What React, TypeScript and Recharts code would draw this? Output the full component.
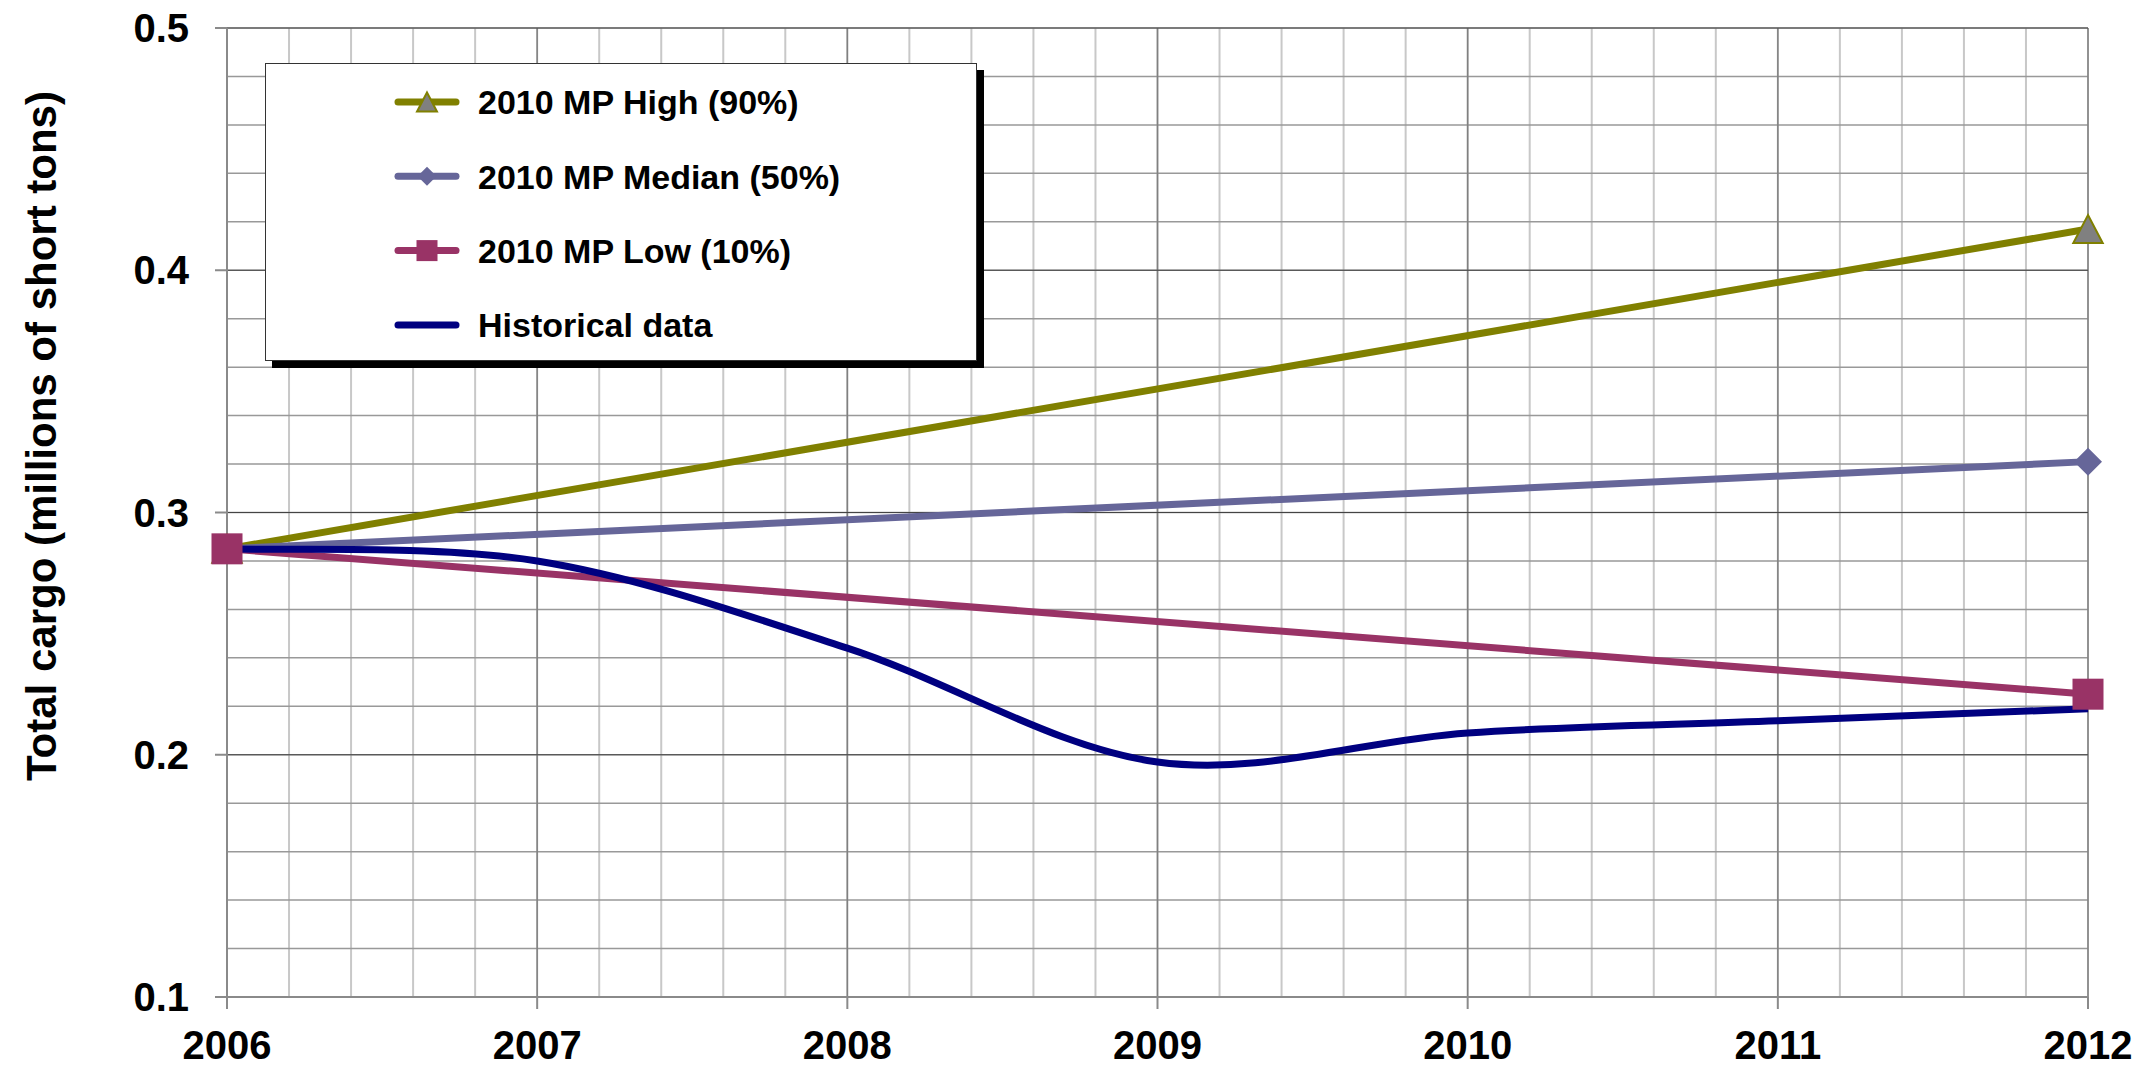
import React from 'react'
import { LineChart, Line, XAxis, YAxis, CartesianGrid, Legend, Label } from 'recharts'

// values (millions of short tons)
const years = [2006, 2007, 2008, 2009, 2010, 2011, 2012]
const high = [0.285, null, null, null, null, null, 0.417]
const median = [0.285, null, null, null, null, null, 0.321]
const low = [0.285, null, null, null, null, null, 0.225]
const historical = [0.285, 0.28, 0.244, 0.197, 0.209, 0.214, 0.219]

const yDomain = [0.1, 0.5]
const yTicks = [0.1, 0.2, 0.3, 0.4, 0.5]
const minorYearTicks = [
  2006, 2006.2, 2006.4, 2006.6, 2006.8, 2007, 2007.2, 2007.4, 2007.6, 2007.8,
  2008, 2008.2, 2008.4, 2008.6, 2008.8, 2009, 2009.2, 2009.4, 2009.6, 2009.8,
  2010, 2010.2, 2010.4, 2010.6, 2010.8, 2011, 2011.2, 2011.4, 2011.6, 2011.8, 2012,
]
const minorValueTicks = [
  0.1, 0.12, 0.14, 0.16, 0.18, 0.2, 0.22, 0.24, 0.26, 0.28, 0.3,
  0.32, 0.34, 0.36, 0.38, 0.4, 0.42, 0.44, 0.46, 0.48, 0.5,
]

type MarkerKind = 'triangle' | 'diamond' | 'square' | 'none'

const series: { key: string; name: string; color: string; marker: MarkerKind }[] = [
  { key: 'high', name: '2010 MP High (90%)', color: '#808000', marker: 'triangle' },
  { key: 'median', name: '2010 MP Median (50%)', color: '#666699', marker: 'diamond' },
  { key: 'low', name: '2010 MP Low (10%)', color: '#993366', marker: 'square' },
  { key: 'hist', name: 'Historical data', color: '#000080', marker: 'none' },
]

const data = years.map((year, i) => ({
  year,
  high: high[i],
  median: median[i],
  low: low[i],
  hist: historical[i],
}))

const FONT = '"Liberation Sans", Arial, sans-serif'

// Excel-style smoothed line (Catmull-Rom through the points)
const excelSmooth = (context: any) => {
  let pts: [number, number][] = []
  return {
    areaStart() {},
    areaEnd() {},
    lineStart() {
      pts = []
    },
    point(x: number, y: number) {
      pts.push([+x, +y])
    },
    lineEnd() {
      if (!pts.length) return
      context.moveTo(pts[0][0], pts[0][1])
      for (let i = 0; i < pts.length - 1; i++) {
        const p0 = pts[Math.max(0, i - 1)]
        const p1 = pts[i]
        const p2 = pts[i + 1]
        const p3 = pts[Math.min(pts.length - 1, i + 2)]
        context.bezierCurveTo(
          p1[0] + (p2[0] - p0[0]) / 6,
          p1[1] + (p2[1] - p0[1]) / 6,
          p2[0] - (p3[0] - p1[0]) / 6,
          p2[1] - (p3[1] - p1[1]) / 6,
          p2[0],
          p2[1]
        )
      }
    },
  }
}

const drawMarker = (kind: MarkerKind, cx: number, cy: number, size: number, color: string) => {
  const h = size / 2
  if (kind === 'triangle')
    return (
      <polygon
        points={`${cx},${cy - h} ${cx + h * 1.05},${cy + h} ${cx - h * 1.05},${cy + h}`}
        fill="#808080"
        stroke={color}
        strokeWidth={2}
      />
    )
  if (kind === 'diamond')
    return <polygon points={`${cx},${cy - h} ${cx + h},${cy} ${cx},${cy + h} ${cx - h},${cy}`} fill={color} />
  if (kind === 'square') return <rect x={cx - h} y={cy - h} width={size} height={size} fill={color} />
  return null
}

const makeDot = (kind: MarkerKind, color: string) => (props: any) => {
  const { cx, cy, value, index } = props
  if (value == null || cy == null || kind === 'none') return <g key={`d${index}`} />
  return <g key={`d${index}`}>{drawMarker(kind, cx, cy, kind === 'square' ? 31 : 28, color)}</g>
}

const renderLegend = () => (
  <div
    style={{
      width: 712,
      height: 298,
      boxSizing: 'border-box',
      border: '1px solid #333',
      background: '#fff',
      boxShadow: '7px 7px 0 #000',
    }}
  >
    <svg width={710} height={296}>
      {series.map((s, i) => {
        const cy = 38 + i * 74.3
        return (
          <g key={s.key}>
            <line x1={132} x2={190} y1={cy} y2={cy} stroke={s.color} strokeWidth={7} strokeLinecap="round" />
            {drawMarker(s.marker, 161, cy, s.marker === 'square' ? 21 : 19, s.color)}
            <text x={212} y={cy} dy="0.36em" fontSize={34} fontWeight="bold" fontFamily={FONT} fill="#000">
              {s.name}
            </text>
          </g>
        )
      })}
    </svg>
  </div>
)

const tickStyle = { fill: '#000', fontSize: 40, fontWeight: 'bold', fontFamily: FONT }

// minor horizontal gridlines every 0.02, placed with the y axis scale when available
const minorHorizontal = ({ yAxis, offset }: any) => {
  const s = yAxis?.scale
  if (typeof s === 'function') return minorValueTicks.map((v) => s(v))
  if (s && typeof s.map === 'function' && !Array.isArray(s)) return minorValueTicks.map((v) => s.map(v))
  const [lo, hi] = yDomain
  return minorValueTicks.map((v) => offset.top + (offset.height * (hi - v)) / (hi - lo))
}

export default function App() {
  return (
    <div style={{ position: 'absolute', left: 0, top: 0, background: '#fff' }}>
      <LineChart width={2155} height={1071} data={data} margin={{ top: 28, right: 67, left: 0, bottom: 0 }}>
        <XAxis xAxisId="minor" type="number" dataKey="year" domain={[2006, 2012]} ticks={minorYearTicks} hide />
        <CartesianGrid xAxisId="minor" stroke="#c8c8c8" strokeWidth={2} horizontal={false} />
        <CartesianGrid
          stroke="#999"
          strokeWidth={1.5}
          vertical={false}
          horizontalCoordinatesGenerator={minorHorizontal}
        />
        <CartesianGrid stroke="#808080" strokeWidth={1.5} horizontal={false} />
        <CartesianGrid stroke="#444" strokeWidth={1.2} vertical={false} />
        <XAxis
          type="number"
          dataKey="year"
          domain={[2006, 2012]}
          ticks={years}
          height={74}
          tick={tickStyle}
          tickSize={12}
          tickMargin={22}
          axisLine={{ stroke: '#8a8a8a', strokeWidth: 2 }}
          tickLine={{ stroke: '#8a8a8a', strokeWidth: 2 }}
          allowDecimals={false}
        />
        <YAxis
          type="number"
          domain={yDomain}
          ticks={yTicks}
          width={227}
          tick={tickStyle}
          tickSize={12}
          tickMargin={26}
          axisLine={{ stroke: '#8a8a8a', strokeWidth: 2 }}
          tickLine={{ stroke: '#8a8a8a', strokeWidth: 2 }}
        >
          <Label
            content={() => (
              <text
                x={56}
                y={436}
                transform="rotate(-90, 56, 436)"
                textAnchor="middle"
                fontSize={42}
                fontWeight="bold"
                fontFamily={FONT}
                fill="#000"
              >
                Total cargo (millions of short tons)
              </text>
            )}
          />
        </YAxis>
        <Legend
          content={renderLegend}
          layout="vertical"
          align="center"
          verticalAlign="middle"
          width={712}
          height={298}
          wrapperStyle={{ left: 265, top: 63, width: 712, height: 298 }}
        />
        {series.map((s) => (
          <Line
            key={s.key}
            dataKey={s.key}
            name={s.name}
            type={s.key === 'hist' ? (excelSmooth as any) : 'linear'}
            stroke={s.color}
            strokeWidth={7}
            connectNulls
            dot={makeDot(s.marker, s.color)}
            activeDot={false}
            isAnimationActive={false}
          />
        ))}
      </LineChart>
    </div>
  )
}
